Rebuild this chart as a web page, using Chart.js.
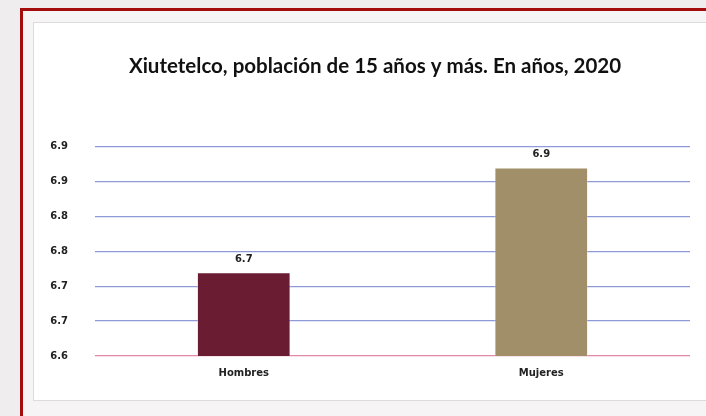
<!DOCTYPE html>
<html>
<head>
<meta charset="utf-8">
<script src="https://cdn.jsdelivr.net/npm/chart.js@4"></script>
<style>
  html, body { margin: 0; padding: 0; width: 706px; height: 416px; overflow: hidden; background: #efeded; }
  #frame { position: absolute; left: 20px; top: 8px; width: 700px; height: 420px; border-left: 3px solid #a30d0d; border-top: 3px solid #a30d0d; background: #f6f4f4; }
  #card { position: absolute; left: 33px; top: 22px; width: 690px; height: 377px; background: #fff; border: 1px solid #dcdcdc; }
  #wrap { position: absolute; left: 33px; top: 22px; width: 684px; height: 378px; }
</style>
</head>
<body>
<div id="frame"></div>
<div id="card"></div>
<div id="wrap"><canvas id="barChart"></canvas></div>
<script>
// datos del gráfico
const categorias = ['Hombres', 'Mujeres'];
const valores = [6.72, 6.87];
const colores = ['#691c32', '#a08f68'];
const titulo = 'Xiutetelco, población de 15 años y más. En años, 2020';

// redondeo a un decimal (6.85 -> 6.9)
const unDecimal = v => (Math.round(v * 10 + 1e-6) / 10).toFixed(1);

// etiquetas encima de las barras
const etiquetas = {
    id: 'etiquetas',
    afterDatasetsDraw(chart) {
        const ctx = chart.ctx;
        const meta = chart.getDatasetMeta(0);
        ctx.save();
        ctx.font = 'bold 10px "DejaVu Sans"';
        ctx.fillStyle = '#222';
        ctx.textAlign = 'center';
        ctx.textBaseline = 'middle';
        meta.data.forEach((bar, i) => {
            ctx.fillText(unDecimal(valores[i]), bar.x, bar.y - 13);
        });
        ctx.restore();
    }
};

const config = {
    type: 'bar',
    data: {
        labels: categorias,
        datasets: [{
            data: valores,
            backgroundColor: colores,
            borderColor: 'rgba(255,255,255,0.3)',
            borderWidth: 1,
            barPercentage: 0.63,
            categoryPercentage: 0.5
        }]
    },
    options: {
        responsive: false,
        animation: false,
        plugins: {
            legend: { display: false },
            tooltip: { enabled: false },
            title: {
                display: true,
                text: titulo,
                color: '#111',
                font: { family: 'Lato', size: 20.5, weight: 'bold' },
                padding: { top: 32, bottom: 68 }
            }
        },
        scales: {
            y: {
                min: 6.6,
                max: 6.9,
                afterFit: s => { s.width = 62; },
                border: { display: false },
                ticks: {
                    stepSize: 0.05,
                    padding: 27,
                    color: '#222',
                    font: { family: 'DejaVu Sans', size: 10, weight: 'bold' },
                    callback: v => unDecimal(v)
                },
                grid: {
                    drawTicks: false,
                    lineWidth: 1.3,
                    color: c => c.index === 0 ? '#e08aa8' : '#8e9ad8'
                }
            },
            // eje vacío a la derecha, solo deja margen
            margen: {
                position: 'right',
                min: 6.6,
                max: 6.9,
                afterFit: s => { s.width = 27; },
                border: { display: false },
                grid: { display: false },
                ticks: { display: false }
            },
            x: {
                afterFit: s => { s.height = 44; },
                border: { display: false },
                grid: { display: false },
                ticks: {
                    padding: 3,
                    color: '#222',
                    font: { family: 'DejaVu Sans', size: 10, weight: 'bold' }
                }
            }
        }
    },
    plugins: [etiquetas]
};

const canvas = document.getElementById('barChart');
canvas.width = 684;
canvas.height = 378;
new Chart(canvas.getContext('2d'), config);
</script>
</body>
</html>
